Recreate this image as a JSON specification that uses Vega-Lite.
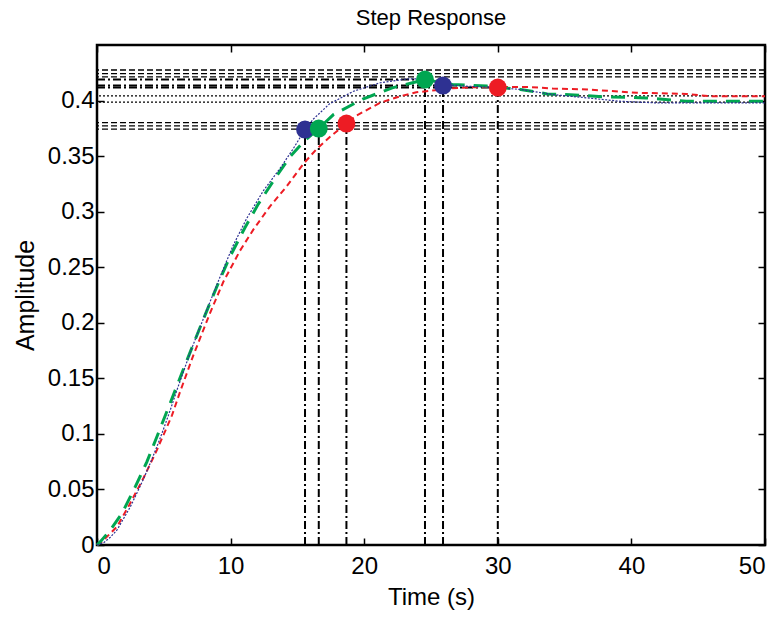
{
  "$schema": "https://vega.github.io/schema/vega-lite/v6.json",
  "width": 668,
  "height": 500,
  "autosize": {"type": "none"},
  "padding": {"left": 97, "top": 45, "right": 15, "bottom": 73},
  "background": "white",
  "title": {"text": "Step Response", "fontSize": 22, "font": "Liberation Sans", "fontWeight": "normal", "color": "black", "offset": 14},
  "config": {
    "view": {"stroke": "black", "strokeWidth": 2.5},
    "font": "Liberation Sans",
    "axis": {"grid": false, "domain": false, "tickColor": "black", "tickWidth": 1.5, "tickSize": -7, "labelColor": "black", "titleColor": "black"}
  },
  "datasets": {
    "curves": [
      {"t": 0, "v": 0, "s": "blue"}, {"t": 0.5, "v": 0.002, "s": "blue"}, {"t": 1.0, "v": 0.007, "s": "blue"}, {"t": 1.5, "v": 0.0135, "s": "blue"}, {"t": 2.0, "v": 0.024, "s": "blue"}, {"t": 2.5, "v": 0.0345, "s": "blue"}, {"t": 3.0, "v": 0.047, "s": "blue"}, {"t": 3.5, "v": 0.06, "s": "blue"}, {"t": 4.0, "v": 0.074, "s": "blue"}, {"t": 4.5, "v": 0.089, "s": "blue"}, {"t": 5.0, "v": 0.105, "s": "blue"}, {"t": 5.5, "v": 0.122, "s": "blue"}, {"t": 6.0, "v": 0.14, "s": "blue"}, {"t": 6.5, "v": 0.157, "s": "blue"}, {"t": 7.0, "v": 0.174, "s": "blue"}, {"t": 7.7, "v": 0.1957, "s": "blue"}, {"t": 8.5, "v": 0.22, "s": "blue"}, {"t": 9.2, "v": 0.241, "s": "blue"}, {"t": 10.2, "v": 0.2698, "s": "blue"}, {"t": 11.2, "v": 0.2938, "s": "blue"}, {"t": 12.45, "v": 0.3188, "s": "blue"}, {"t": 13.7, "v": 0.3389, "s": "blue"}, {"t": 14.7, "v": 0.3569, "s": "blue"}, {"t": 15.57, "v": 0.3739, "s": "blue"}, {"t": 16.2, "v": 0.3834, "s": "blue"}, {"t": 17.4, "v": 0.397, "s": "blue"}, {"t": 19.2, "v": 0.4084, "s": "blue"}, {"t": 21.2, "v": 0.416, "s": "blue"}, {"t": 23.2, "v": 0.4195, "s": "blue"}, {"t": 24.5, "v": 0.4195, "s": "blue"}, {"t": 25.9, "v": 0.4145, "s": "blue"}, {"t": 27.5, "v": 0.413, "s": "blue"}, {"t": 29.5, "v": 0.412, "s": "blue"}, {"t": 31.7, "v": 0.41, "s": "blue"}, {"t": 34.1, "v": 0.4054, "s": "blue"}, {"t": 36.7, "v": 0.4024, "s": "blue"}, {"t": 39.1, "v": 0.3994, "s": "blue"}, {"t": 41.6, "v": 0.398, "s": "blue"}, {"t": 50, "v": 0.398, "s": "blue"},
      {"t": 0, "v": 0, "s": "green"}, {"t": 0.25, "v": 0.003, "s": "green"}, {"t": 1.0, "v": 0.0135, "s": "green"}, {"t": 1.87, "v": 0.0285, "s": "green"}, {"t": 2.87, "v": 0.0525, "s": "green"}, {"t": 3.74, "v": 0.075, "s": "green"}, {"t": 4.62, "v": 0.1016, "s": "green"}, {"t": 5.49, "v": 0.128, "s": "green"}, {"t": 6.46, "v": 0.158, "s": "green"}, {"t": 7.34, "v": 0.1847, "s": "green"}, {"t": 8.08, "v": 0.2067, "s": "green"}, {"t": 9.08, "v": 0.2357, "s": "green"}, {"t": 9.96, "v": 0.2597, "s": "green"}, {"t": 11.08, "v": 0.2858, "s": "green"}, {"t": 12.07, "v": 0.3068, "s": "green"}, {"t": 13.45, "v": 0.3323, "s": "green"}, {"t": 14.45, "v": 0.3494, "s": "green"}, {"t": 15.5, "v": 0.3635, "s": "green"}, {"t": 16.6, "v": 0.3748, "s": "green"}, {"t": 17.7, "v": 0.3874, "s": "green"}, {"t": 19.9, "v": 0.4014, "s": "green"}, {"t": 22.1, "v": 0.4114, "s": "green"}, {"t": 24.55, "v": 0.4189, "s": "green"}, {"t": 26.6, "v": 0.4144, "s": "green"}, {"t": 29.2, "v": 0.413, "s": "green"}, {"t": 31.7, "v": 0.41, "s": "green"}, {"t": 33.7, "v": 0.406, "s": "green"}, {"t": 36.2, "v": 0.4048, "s": "green"}, {"t": 38.1, "v": 0.4033, "s": "green"}, {"t": 41.1, "v": 0.4024, "s": "green"}, {"t": 44.1, "v": 0.3994, "s": "green"}, {"t": 50, "v": 0.3994, "s": "green"},
      {"t": 0, "v": 0, "s": "red"}, {"t": 0.37, "v": 0.003, "s": "red"}, {"t": 1.5, "v": 0.0165, "s": "red"}, {"t": 2.37, "v": 0.035, "s": "red"}, {"t": 3.49, "v": 0.0605, "s": "red"}, {"t": 4.49, "v": 0.0856, "s": "red"}, {"t": 5.61, "v": 0.1166, "s": "red"}, {"t": 6.21, "v": 0.1376, "s": "red"}, {"t": 7.21, "v": 0.1707, "s": "red"}, {"t": 8.46, "v": 0.2087, "s": "red"}, {"t": 9.45, "v": 0.2367, "s": "red"}, {"t": 10.7, "v": 0.2648, "s": "red"}, {"t": 11.7, "v": 0.2838, "s": "red"}, {"t": 12.95, "v": 0.3048, "s": "red"}, {"t": 14.2, "v": 0.3228, "s": "red"}, {"t": 15.44, "v": 0.3429, "s": "red"}, {"t": 16.4, "v": 0.3559, "s": "red"}, {"t": 17.5, "v": 0.368, "s": "red"}, {"t": 18.67, "v": 0.3793, "s": "red"}, {"t": 19.4, "v": 0.3864, "s": "red"}, {"t": 21.2, "v": 0.398, "s": "red"}, {"t": 22.7, "v": 0.4039, "s": "red"}, {"t": 23.9, "v": 0.4074, "s": "red"}, {"t": 26.6, "v": 0.411, "s": "red"}, {"t": 28.0, "v": 0.412, "s": "red"}, {"t": 30.0, "v": 0.4122, "s": "red"}, {"t": 32.4, "v": 0.4122, "s": "red"}, {"t": 34.1, "v": 0.4108, "s": "red"}, {"t": 36.7, "v": 0.41, "s": "red"}, {"t": 40.4, "v": 0.407, "s": "red"}, {"t": 44.1, "v": 0.406, "s": "red"}, {"t": 45.9, "v": 0.4039, "s": "red"}, {"t": 50, "v": 0.4039, "s": "red"}
    ],
    "bands": [
      {"v": 0.4275, "kind": "dashed"}, {"v": 0.4243, "kind": "dashed"}, {"v": 0.4213, "kind": "dashed"},
      {"v": 0.3802, "kind": "dashed"}, {"v": 0.3772, "kind": "dashed"}, {"v": 0.3742, "kind": "dashed"},
      {"v": 0.4042, "kind": "dotted"}, {"v": 0.3985, "kind": "dotted"}
    ],
    "marks": [
      {"t0": 0, "t": 15.57, "v0": 0, "v": 0.3739, "s": "blue"}, {"t0": 0, "t": 16.6, "v0": 0, "v": 0.3748, "s": "green"}, {"t0": 0, "t": 18.67, "v0": 0, "v": 0.3793, "s": "red"},
      {"t0": 0, "t": 24.55, "v0": 0, "v": 0.4189, "s": "green"}, {"t0": 0, "t": 25.9, "v0": 0, "v": 0.4135, "s": "blue"}, {"t0": 0, "t": 30.0, "v0": 0, "v": 0.4117, "s": "red"}
    ]
  },
  "resolve": {"axis": {"x": "independent", "y": "independent"}},
  "layer": [
    {
      "data": {"name": "marks"},
      "transform": [{"filter": "datum.t > 20"}],
      "mark": {"type": "rule", "color": "black", "strokeWidth": 2, "strokeDash": [8, 3, 2, 3]},
      "encoding": {
        "x": {"field": "t0", "type": "quantitative", "scale": {"domain": [0, 50], "nice": false, "zero": false},
          "axis": {"orient": "bottom", "values": [0, 10, 20, 30, 40, 50], "labelPadding": 16, "labelFontSize": 24, "labelFont": "Liberation Sans", "title": "Time (s)", "titleFontSize": 24, "titleFont": "Liberation Sans", "titleFontWeight": "normal", "titlePadding": 7}},
        "x2": {"field": "t"},
        "y": {"field": "v", "type": "quantitative", "scale": {"domain": [0, 0.45], "nice": false, "zero": false},
          "axis": {"orient": "left", "values": [0, 0.05, 0.1, 0.15, 0.2, 0.25, 0.3, 0.35, 0.4], "format": "~g", "labelPadding": 10, "labelFontSize": 24, "labelFont": "Liberation Sans", "title": "Amplitude", "titleFontSize": 25, "titleFont": "Liberation Sans", "titleFontWeight": "normal", "titlePadding": 9}}
      }
    },
    {
      "data": {"name": "marks"},
      "mark": {"type": "rule", "color": "black", "strokeWidth": 2, "strokeDash": [8, 3, 2, 3]},
      "encoding": {
        "x": {"field": "t", "type": "quantitative", "axis": {"orient": "top", "values": [0, 10, 20, 30, 40, 50], "labels": false, "title": null}},
        "y": {"field": "v0", "type": "quantitative", "axis": {"orient": "right", "values": [0, 0.05, 0.1, 0.15, 0.2, 0.25, 0.3, 0.35, 0.4], "labels": false, "title": null}},
        "y2": {"field": "v"}
      }
    },
    {
      "data": {"name": "bands"},
      "transform": [{"filter": "datum.kind === 'dashed'"}],
      "mark": {"type": "rule", "color": "black", "strokeWidth": 1.3, "strokeDash": [6, 3]},
      "encoding": {
        "y": {"field": "v", "type": "quantitative", "axis": null}
      }
    },
    {
      "data": {"name": "bands"},
      "transform": [{"filter": "datum.kind === 'dotted'"}],
      "mark": {"type": "rule", "color": "black", "strokeWidth": 1.3, "strokeDash": [2, 2]},
      "encoding": {
        "y": {"field": "v", "type": "quantitative", "axis": null}
      }
    },
    {
      "data": {"name": "curves"},
      "transform": [{"filter": "datum.s === 'red'"}],
      "mark": {"type": "line", "color": "#ed1c24", "strokeWidth": 2, "strokeDash": [6, 4]},
      "encoding": {
        "x": {"field": "t", "type": "quantitative", "axis": null},
        "y": {"field": "v", "type": "quantitative", "axis": null}
      }
    },
    {
      "data": {"name": "curves"},
      "transform": [{"filter": "datum.s === 'green'"}],
      "mark": {"type": "line", "color": "#00a651", "strokeWidth": 3, "strokeDash": [14, 9]},
      "encoding": {
        "x": {"field": "t", "type": "quantitative", "axis": null},
        "y": {"field": "v", "type": "quantitative", "axis": null}
      }
    },
    {
      "data": {"name": "curves"},
      "transform": [{"filter": "datum.s === 'blue'"}],
      "mark": {"type": "line", "color": "#2e3192", "strokeWidth": 1.2, "strokeDash": [2, 1.5]},
      "encoding": {
        "x": {"field": "t", "type": "quantitative", "axis": null},
        "y": {"field": "v", "type": "quantitative", "axis": null}
      }
    },
    {
      "data": {"name": "marks"},
      "mark": {"type": "point", "filled": true, "size": 320, "opacity": 1, "strokeWidth": 1},
      "encoding": {
        "x": {"field": "t", "type": "quantitative", "axis": null},
        "y": {"field": "v", "type": "quantitative", "axis": null},
        "color": {"field": "s", "type": "nominal", "scale": {"domain": ["blue", "green", "red"], "range": ["#2e3192", "#00a651", "#ed1c24"]}, "legend": null}
      }
    }
  ]
}
